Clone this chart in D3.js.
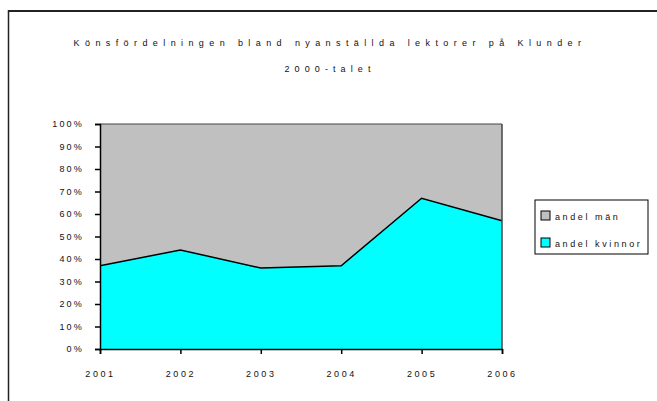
<!DOCTYPE html>
<html>
<head>
<meta charset="utf-8">
<script src="https://cdn.jsdelivr.net/npm/d3@7"></script>
<style>
  body { margin: 0; background: #fff; }
  svg { display: block; font-family: "Liberation Sans", Arial, sans-serif; }
</style>
</head>
<body>
<svg id="chart" width="657" height="401"></svg>
<script>
var years = ["2001", "2002", "2003", "2004", "2005", "2006"];
var andelKvinnor = [37, 44, 36, 37, 67, 57];
var andelMan = [63, 56, 64, 63, 33, 43];
var yTicks = [0, 10, 20, 30, 40, 50, 60, 70, 80, 90, 100];
var seriesNames = ["andel män", "andel kvinnor"];
var seriesColors = ["#c0c0c0", "#00ffff"];

var svg = d3.select("#chart");

// ram runt diagrammet
svg.append("line").attr("x1", 8.5).attr("x2", 657).attr("y1", 11).attr("y2", 11)
	.attr("stroke", "#222").attr("stroke-width", 2);
svg.append("line").attr("x1", 8.5).attr("x2", 8.5).attr("y1", 10).attr("y2", 401)
	.attr("stroke", "#222").attr("stroke-width", 1.5);

// titel
svg.append("text").attr("x", 330).attr("y", 46).attr("text-anchor", "middle")
	.attr("font-size", 9).attr("letter-spacing", 5.4).attr("fill", "#111")
	.text("Könsfördelningen bland nyanställda lektorer på Klunder");
svg.append("text").attr("x", 330).attr("y", 72).attr("text-anchor", "middle")
	.attr("font-size", 9).attr("letter-spacing", 5.1).attr("fill", "#111")
	.text("2000-talet");

var plotLeft = 100, plotRight = 502, plotTop = 124, plotBottom = 349;

var x = d3.scalePoint().domain(years).range([plotLeft, plotRight]);
var y = d3.scaleLinear().domain([0, 100]).range([plotBottom, plotTop]);

var rows = years.map(function(yr, i) {
	return { year: yr, kvinnor: andelKvinnor[i], man: andelMan[i] };
});
var stack = d3.stack().keys(["kvinnor", "man"]);
var layers = stack(rows);

var area = d3.area()
	.x(function(d) { return x(d.data.year); })
	.y0(function(d) { return y(d[0]); })
	.y1(function(d) { return y(d[1]); });

// män (grå) och kvinnor (cyan)
svg.append("path").datum(layers[1]).attr("d", area).attr("fill", seriesColors[0]);
svg.append("path").datum(layers[0]).attr("d", area).attr("fill", seriesColors[1]);

// linje mellan ytorna
var line = d3.line()
	.x(function(d) { return x(d.data.year); })
	.y(function(d) { return y(d[1]); });
svg.append("path").datum(layers[0]).attr("d", line)
	.attr("fill", "none").attr("stroke", "#000").attr("stroke-width", 1.5);

// kanter på ytan
svg.append("line").attr("x1", plotLeft).attr("x2", plotRight).attr("y1", plotTop).attr("y2", plotTop)
	.attr("stroke", "#444").attr("stroke-width", 1);
svg.append("line").attr("x1", plotRight).attr("x2", plotRight).attr("y1", plotTop).attr("y2", plotBottom)
	.attr("stroke", "#444").attr("stroke-width", 1.5);

// y-axel
var yAxis = svg.append("g").attr("transform", "translate(" + plotLeft + ",0)")
	.call(d3.axisLeft(y).tickValues(yTicks).tickSize(5).tickPadding(11)
		.tickFormat(function(d) { return d + "%"; }));
yAxis.select(".domain").attr("stroke", "#000").attr("stroke-width", 1.5);
yAxis.selectAll(".tick line").attr("stroke", "#000").attr("stroke-width", 1.5);
yAxis.selectAll("text").attr("font-size", 9).attr("letter-spacing", 2.2)
	.attr("font-family", "Liberation Sans, Arial, sans-serif").attr("fill", "#111");

// x-axel
var xAxis = svg.append("g").attr("transform", "translate(0," + plotBottom + ")")
	.call(d3.axisBottom(x).tickSize(5).tickPadding(17));
xAxis.select(".domain").attr("stroke", "#000").attr("stroke-width", 1.5);
xAxis.selectAll(".tick line").attr("stroke", "#000").attr("stroke-width", 1.5);
xAxis.selectAll("text").attr("font-size", 9).attr("letter-spacing", 2.6)
	.attr("font-family", "Liberation Sans, Arial, sans-serif").attr("fill", "#111");

// förklaring
var legend = svg.append("g").attr("transform", "translate(535,200)");
legend.append("rect").attr("width", 113).attr("height", 54)
	.attr("fill", "#fff").attr("stroke", "#000").attr("stroke-width", 1);
seriesNames.forEach(function(name, i) {
	var g = legend.append("g").attr("transform", "translate(6," + (11 + i * 27) + ")");
	g.append("rect").attr("width", 9).attr("height", 9)
		.attr("fill", seriesColors[i]).attr("stroke", "#000").attr("stroke-width", 1);
	g.append("text").attr("x", 14).attr("y", 8.5).attr("font-size", 9)
		.attr("letter-spacing", 2.6).attr("fill", "#111").text(name);
});
</script>
</body>
</html>
